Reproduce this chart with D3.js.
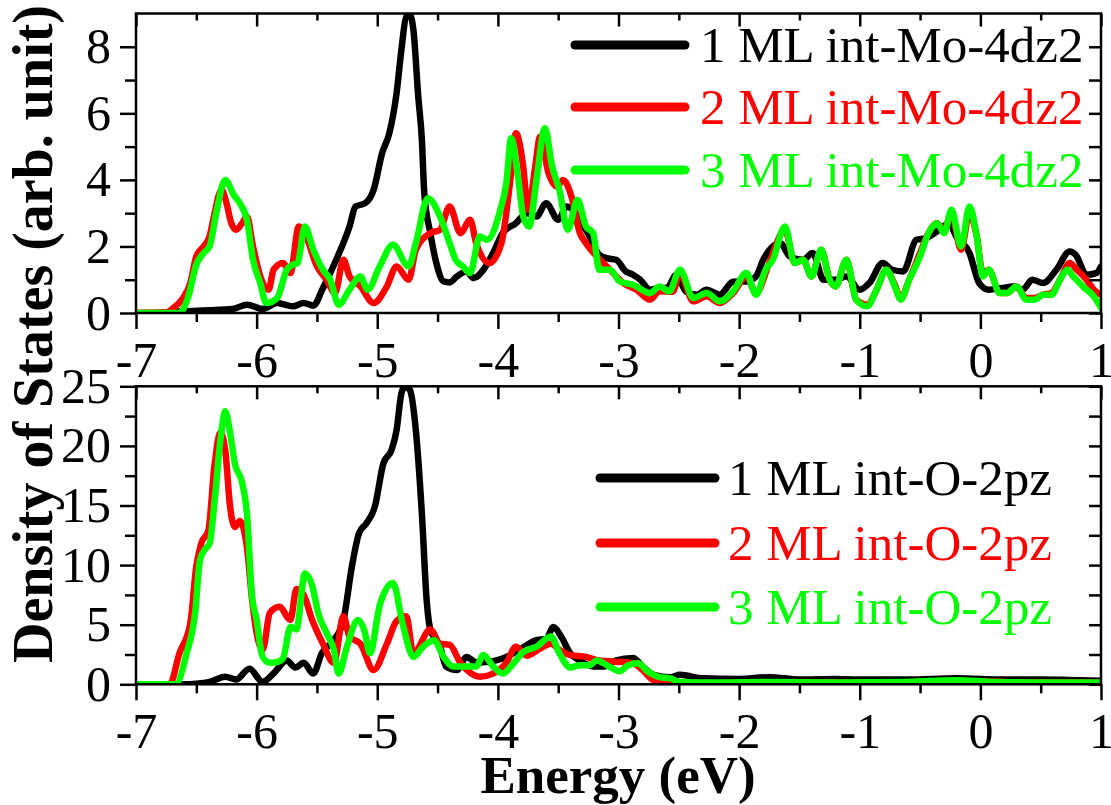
<!DOCTYPE html>
<html>
<head>
<meta charset="utf-8">
<script src="https://cdn.jsdelivr.net/npm/d3@7"></script>
<style>
  html, body { margin: 0; padding: 0; background: #ffffff; }
  svg { display: block; }
</style>
</head>
<body>
<svg id="chart" width="1111" height="805"></svg>
<script>
// ---- data -------------------------------------------------------------
const energyTicks = [-7, -6, -5, -4, -3, -2, -1, 0, 1];
const energyMinorTicks = [-6.5, -5.5, -4.5, -3.5, -2.5, -1.5, -0.5, 0.5];
const moTicks = [0, 2, 4, 6, 8];
const moMinorTicks = [1, 3, 5, 7];
const oTicks = [0, 5, 10, 15, 20, 25];
const oMinorTicks = [2.5, 7.5, 12.5, 17.5, 22.5];
const seriesColors = ["#000000", "#ff0000", "#00ff00"];
const moLabels = ["1 ML int-Mo-4dz2", "2 ML int-Mo-4dz2", "3 ML int-Mo-4dz2"];
const oLabels = ["1 ML int-O-2pz", "2 ML int-O-2pz", "3 ML int-O-2pz"];

// [energy (eV), DOS] — Mo 4dz2 of the interface layer
const mo1ML = [[-7.0,0],[-6.8,0],[-6.61,0.05],[-6.4,0.08],[-6.2,0.12],[-6.08,0.25],[-5.95,0.12],[-5.83,0.3],[-5.70,0.2],[-5.61,0.3],[-5.53,0.22],[-5.45,0.75],[-5.34,1.6],[-5.23,2.6],[-5.18,3.2],[-5.10,3.3],[-5.03,3.7],[-4.96,4.8],[-4.90,5.4],[-4.84,6.6],[-4.80,7.9],[-4.76,8.9],[-4.73,8.95],[-4.70,8.5],[-4.66,6.5],[-4.63,5.2],[-4.61,3.6],[-4.56,2.4],[-4.51,1.5],[-4.45,0.95],[-4.40,0.92],[-4.34,1.1],[-4.26,1.25],[-4.20,1.05],[-4.12,1.3],[-4.04,1.8],[-3.96,2.4],[-3.85,2.7],[-3.76,3.0],[-3.68,2.9],[-3.60,3.3],[-3.50,2.8],[-3.43,3.2],[-3.38,3.1],[-3.32,2.8],[-3.24,2.3],[-3.16,1.75],[-3.10,1.65],[-3.02,1.6],[-2.94,1.25],[-2.88,1.15],[-2.82,1.0],[-2.74,0.7],[-2.66,0.75],[-2.60,0.75],[-2.52,1.15],[-2.44,0.64],[-2.35,0.55],[-2.27,0.7],[-2.16,0.55],[-2.05,0.94],[-1.94,0.95],[-1.86,1.1],[-1.80,1.6],[-1.72,2.0],[-1.66,2.1],[-1.58,1.7],[-1.47,1.6],[-1.39,1.8],[-1.30,1.0],[-1.20,1.0],[-1.11,1.1],[-1.0,0.7],[-0.92,0.9],[-0.81,1.5],[-0.73,1.3],[-0.64,1.25],[-0.53,2.2],[-0.45,2.25],[-0.34,2.5],[-0.26,2.7],[-0.20,2.3],[-0.09,1.8],[-0.01,0.9],[0.07,0.7],[0.18,0.75],[0.27,0.8],[0.35,0.7],[0.43,1.0],[0.52,0.9],[0.63,1.3],[0.74,1.85],[0.79,1.75],[0.88,1.15],[0.96,1.2],[1.0,1.4]];
const mo2ML = [[-7,0],[-6.75,0.02],[-6.69,0.15],[-6.62,0.4],[-6.55,0.9],[-6.50,1.7],[-6.44,2.0],[-6.39,2.3],[-6.36,2.8],[-6.29,3.7],[-6.25,3.3],[-6.21,2.7],[-6.17,2.5],[-6.12,2.7],[-6.08,2.9],[-6.03,2.0],[-5.96,1.0],[-5.90,0.7],[-5.86,1.3],[-5.78,1.5],[-5.72,1.2],[-5.65,2.6],[-5.59,2.3],[-5.50,1.4],[-5.42,1.0],[-5.35,0.6],[-5.28,1.6],[-5.23,1.1],[-5.14,0.8],[-5.03,0.3],[-4.92,0.8],[-4.84,1.4],[-4.74,1.0],[-4.68,1.9],[-4.56,2.4],[-4.48,2.5],[-4.40,3.2],[-4.31,2.4],[-4.23,2.8],[-4.18,2.1],[-4.07,1.5],[-3.97,2.1],[-3.90,3.9],[-3.85,5.4],[-3.79,4.4],[-3.75,3.1],[-3.69,4.4],[-3.65,5.3],[-3.58,4.2],[-3.51,3.8],[-3.46,4.0],[-3.39,3.5],[-3.32,2.4],[-3.27,2.1],[-3.18,1.7],[-3.07,1.3],[-2.96,0.9],[-2.85,0.7],[-2.74,0.4],[-2.66,0.65],[-2.55,0.64],[-2.49,1.2],[-2.38,0.35],[-2.27,0.5],[-2.16,0.3],[-2.05,0.6],[-1.94,1.1],[-1.86,0.6],[-1.75,1.5],[-1.62,2.5],[-1.54,1.5],[-1.47,1.6],[-1.40,1.1],[-1.32,1.9],[-1.25,1.0],[-1.20,0.8],[-1.11,1.6],[-1.03,0.4],[-0.94,0.25],[-0.86,0.7],[-0.78,1.3],[-0.71,0.85],[-0.66,0.45],[-0.59,1.0],[-0.50,1.8],[-0.43,2.4],[-0.36,2.7],[-0.30,2.5],[-0.24,3.0],[-0.16,1.9],[-0.09,3.0],[-0.03,2.3],[0.02,1.2],[0.07,1.3],[0.16,0.6],[0.22,0.6],[0.30,0.8],[0.38,0.45],[0.45,0.45],[0.52,0.55],[0.59,0.6],[0.66,1.0],[0.74,1.5],[0.80,1.3],[0.88,1.0],[0.94,0.7],[1.0,0.55]];
const mo3ML = [[-7,0],[-6.64,0],[-6.57,0.45],[-6.50,1.45],[-6.44,1.8],[-6.39,2.0],[-6.33,3.1],[-6.26,4.0],[-6.19,3.55],[-6.14,3.3],[-6.08,2.8],[-6.03,1.6],[-5.97,0.9],[-5.92,0.3],[-5.83,0.45],[-5.75,1.3],[-5.70,1.45],[-5.66,1.5],[-5.60,2.6],[-5.53,1.9],[-5.45,1.3],[-5.39,1.0],[-5.32,0.25],[-5.23,0.7],[-5.14,1.1],[-5.08,0.7],[-4.98,1.4],[-4.87,2.05],[-4.74,1.4],[-4.68,2.1],[-4.58,3.45],[-4.48,2.9],[-4.40,2.1],[-4.35,1.6],[-4.29,1.4],[-4.23,1.2],[-4.15,2.3],[-4.09,2.2],[-3.98,3.1],[-3.93,3.9],[-3.89,5.25],[-3.83,4.0],[-3.79,2.9],[-3.74,2.6],[-3.68,4.0],[-3.61,5.55],[-3.55,4.4],[-3.49,3.7],[-3.42,2.5],[-3.34,3.4],[-3.27,2.6],[-3.21,2.4],[-3.16,1.3],[-3.07,1.3],[-2.99,0.95],[-2.88,0.85],[-2.74,0.6],[-2.66,0.8],[-2.58,0.65],[-2.49,1.3],[-2.38,0.45],[-2.27,0.6],[-2.16,0.35],[-2.05,0.65],[-1.94,1.2],[-1.86,0.55],[-1.78,1.3],[-1.72,1.6],[-1.62,2.6],[-1.54,1.5],[-1.47,1.6],[-1.40,1.1],[-1.32,1.9],[-1.25,1.0],[-1.20,0.8],[-1.11,1.6],[-1.03,0.4],[-0.94,0.2],[-0.86,0.7],[-0.78,1.3],[-0.71,0.8],[-0.66,0.4],[-0.59,1.0],[-0.50,1.7],[-0.43,2.4],[-0.36,2.7],[-0.30,2.4],[-0.24,3.1],[-0.16,2.0],[-0.09,3.2],[-0.03,2.3],[0.02,1.1],[0.07,1.3],[0.16,0.6],[0.22,0.6],[0.30,0.8],[0.38,0.4],[0.45,0.4],[0.52,0.55],[0.59,0.55],[0.66,1.0],[0.72,1.3],[0.77,1.1],[0.85,0.8],[0.94,0.5],[1.0,0.15]];

// [energy (eV), DOS] — O 2pz of the interface layer
const o1ML = [[-7,0],[-6.6,0],[-6.50,0.05],[-6.39,0.2],[-6.26,0.64],[-6.17,0.4],[-6.06,1.3],[-5.95,0.2],[-5.86,0.9],[-5.75,2.0],[-5.68,1.4],[-5.61,1.8],[-5.53,0.9],[-5.46,2.6],[-5.36,3.7],[-5.28,5.4],[-5.21,9.9],[-5.15,12.7],[-5.09,13.5],[-5.02,14.9],[-4.95,18.5],[-4.88,19.7],[-4.84,21.3],[-4.80,24.4],[-4.77,25],[-4.73,24.7],[-4.68,21.3],[-4.63,14.3],[-4.59,7.0],[-4.56,4.6],[-4.48,3.2],[-4.43,1.5],[-4.34,1.2],[-4.26,2.3],[-4.18,1.85],[-4.07,1.9],[-3.93,2.3],[-3.82,2.9],[-3.68,3.7],[-3.60,3.8],[-3.54,4.8],[-3.47,3.9],[-3.40,2.6],[-3.32,2.0],[-3.21,1.5],[-3.12,1.5],[-3.02,2.0],[-2.88,2.2],[-2.80,1.5],[-2.71,0.8],[-2.57,0.6],[-2.49,0.8],[-2.3,0.5],[-2.0,0.45],[-1.75,0.6],[-1.5,0.4],[-1.2,0.45],[-1.0,0.4],[-0.6,0.4],[-0.2,0.5],[0.2,0.4],[0.5,0.4],[0.8,0.35],[1.0,0.3]];
const o2ML = [[-7,0],[-6.72,0],[-6.64,2.6],[-6.55,5.1],[-6.50,9.9],[-6.46,11.8],[-6.40,12.9],[-6.35,18.3],[-6.30,21.1],[-6.26,19.6],[-6.22,14.9],[-6.18,13.2],[-6.14,13.7],[-6.08,11.5],[-6.04,7.3],[-6.00,4.3],[-5.95,2.9],[-5.89,6.0],[-5.81,6.5],[-5.72,5.4],[-5.67,8.0],[-5.61,7.5],[-5.54,5.4],[-5.45,3.4],[-5.36,1.8],[-5.28,5.7],[-5.23,4.0],[-5.14,3.4],[-5.03,1.2],[-4.92,3.4],[-4.84,5.3],[-4.76,5.7],[-4.70,2.6],[-4.56,4.6],[-4.48,3.4],[-4.40,3.3],[-4.31,1.8],[-4.15,0.64],[-4.04,0.9],[-3.93,1.8],[-3.85,3.15],[-3.76,2.4],[-3.65,3.0],[-3.56,3.4],[-3.49,2.9],[-3.40,2.45],[-3.27,2.3],[-3.16,2.0],[-3.02,1.9],[-2.88,1.76],[-2.80,1.2],[-2.71,0.36],[-2.57,0.2],[-2.3,0.1],[-2.0,0.15],[-1.5,0.2],[-1.0,0.15],[-0.5,0.2],[-0.2,0.3],[0.2,0.2],[0.6,0.15],[1.0,0.15]];
const o3ML = [[-7,0],[-6.67,0],[-6.58,2.6],[-6.51,6.0],[-6.47,10.4],[-6.43,11.3],[-6.39,11.8],[-6.35,15.2],[-6.30,20.5],[-6.26,22.9],[-6.22,21.1],[-6.18,18.5],[-6.12,16.9],[-6.08,14.3],[-6.04,7.6],[-6.00,5.4],[-5.95,2.3],[-5.89,1.8],[-5.82,1.9],[-5.78,2.2],[-5.72,4.8],[-5.67,4.6],[-5.60,9.3],[-5.54,8.3],[-5.49,6.0],[-5.42,4.3],[-5.36,2.9],[-5.32,0.9],[-5.25,3.2],[-5.16,5.4],[-5.11,4.6],[-5.06,2.6],[-4.98,6.6],[-4.87,8.5],[-4.79,5.1],[-4.70,2.3],[-4.62,3.15],[-4.53,3.7],[-4.45,2.3],[-4.37,1.5],[-4.27,1.5],[-4.18,1.5],[-4.12,2.45],[-4.04,1.5],[-3.96,0.9],[-3.87,1.76],[-3.79,2.7],[-3.68,3.15],[-3.56,4.0],[-3.49,2.6],[-3.40,1.4],[-3.32,1.6],[-3.24,1.6],[-3.18,2.0],[-3.08,1.5],[-2.99,1.1],[-2.92,1.6],[-2.84,1.76],[-2.76,1.1],[-2.66,0.6],[-2.57,0.5],[-2.49,0.2],[-2.2,0.15],[-1.8,0.2],[-1.2,0.15],[-0.6,0.2],[-0.2,0.35],[0.1,0.2],[0.6,0.15],[1.0,0.15]];

// ---- layout -----------------------------------------------------------
const svg = d3.select("#chart");
const left = 136, right = 1101;
const serif = "'Liberation Serif', 'Times New Roman', serif";
// plain hyphen-minus for negative tick labels
const plainNumber = d => String(d);

const x = d3.scaleLinear().domain([-7, 1]).range([left, right]);

const panels = [
  { top: 13.5, bottom: 313, yMax: 9, ticks: moTicks, minor: moMinorTicks,
    series: [mo1ML, mo2ML, mo3ML], labels: moLabels,
    legend: { x1: 575, x2: 685, textX: 700, ys: [45, 107, 170] } },
  { top: 386.3, bottom: 684.3, yMax: 25, ticks: oTicks, minor: oMinorTicks,
    series: [o1ML, o2ML, o3ML], labels: oLabels,
    legend: { x1: 600, x2: 715, textX: 728, ys: [478, 543, 607] } }
];

const defs = svg.append("defs");

panels.forEach((p, pi) => {
  const y = d3.scaleLinear().domain([0, p.yMax]).range([p.bottom, p.top]);
  const g = svg.append("g");

  const styleAxis = sel => {
    sel.select(".domain").remove();
    sel.selectAll("line").attr("stroke", "#000").attr("stroke-width", 2.5);
    sel.selectAll("text").attr("fill", "#000")
      .style("font-family", serif).style("font-size", "50px");
  };

  // clip the curves to the plotting frame
  const clipId = "clip" + pi;
  defs.append("clipPath").attr("id", clipId)
    .append("rect")
    .attr("x", left).attr("y", p.top)
    .attr("width", right - left).attr("height", p.bottom - p.top);

  // curves
  const line = d3.line()
    .x(d => x(d[0]))
    .y(d => y(d[1]))
    .curve(d3.curveMonotoneX);

  const curves = g.append("g").attr("clip-path", `url(#${clipId})`);
  p.series.forEach((s, si) => {
    curves.append("path")
      .datum(s)
      .attr("d", line)
      .attr("fill", "none")
      .attr("stroke", seriesColors[si])
      .attr("stroke-width", 6.5)
      .attr("stroke-linejoin", "round")
      .attr("stroke-linecap", "round");
  });

  // bottom axis (outward ticks with labels)
  g.append("g").attr("transform", `translate(0,${p.bottom})`)
    .call(d3.axisBottom(x).tickValues(energyTicks).tickSize(16).tickSizeOuter(0)
      .tickPadding(12).tickFormat(plainNumber))
    .call(styleAxis);
  g.append("g").attr("transform", `translate(0,${p.bottom})`)
    .call(d3.axisBottom(x).tickValues(energyMinorTicks).tickSize(9).tickSizeOuter(0).tickFormat(""))
    .call(styleAxis);

  // top axis (inward ticks, no labels)
  g.append("g").attr("transform", `translate(0,${p.top})`)
    .call(d3.axisTop(x).tickValues(energyTicks).tickSize(-13).tickSizeOuter(0).tickFormat(""))
    .call(styleAxis);
  g.append("g").attr("transform", `translate(0,${p.top})`)
    .call(d3.axisTop(x).tickValues(energyMinorTicks).tickSize(-7).tickSizeOuter(0).tickFormat(""))
    .call(styleAxis);

  // left axis (outward ticks with labels)
  g.append("g").attr("transform", `translate(${left},0)`)
    .call(d3.axisLeft(y).tickValues(p.ticks).tickSize(16).tickSizeOuter(0)
      .tickPadding(9).tickFormat(plainNumber))
    .call(styleAxis);
  g.append("g").attr("transform", `translate(${left},0)`)
    .call(d3.axisLeft(y).tickValues(p.minor).tickSize(11).tickSizeOuter(0).tickFormat(""))
    .call(styleAxis);

  // right axis (inward ticks, no labels)
  g.append("g").attr("transform", `translate(${right},0)`)
    .call(d3.axisRight(y).tickValues(p.ticks.concat(p.minor)).tickSize(-12).tickSizeOuter(0).tickFormat(""))
    .call(styleAxis);

  // frame
  g.append("rect")
    .attr("x", left).attr("y", p.top)
    .attr("width", right - left).attr("height", p.bottom - p.top)
    .attr("fill", "none").attr("stroke", "#000").attr("stroke-width", 2.5);

  // legend
  const lg = g.append("g");
  p.labels.forEach((lab, i) => {
    const ly = p.legend.ys[i];
    lg.append("line")
      .attr("x1", p.legend.x1).attr("x2", p.legend.x2)
      .attr("y1", ly).attr("y2", ly)
      .attr("stroke", seriesColors[i]).attr("stroke-width", 9)
      .attr("stroke-linecap", "round");
    lg.append("text")
      .attr("x", p.legend.textX).attr("y", ly + 17)
      .attr("fill", seriesColors[i])
      .style("font-family", serif).style("font-size", "51px")
      .text(lab);
  });
});

// axis titles
svg.append("text")
  .attr("transform", "translate(52,334) rotate(-90)")
  .attr("text-anchor", "middle")
  .style("font-family", serif).style("font-size", "56px").style("font-weight", "bold")
  .text("Density of States (arb. unit)");

svg.append("text")
  .attr("x", 618).attr("y", 793)
  .attr("text-anchor", "middle")
  .style("font-family", serif).style("font-size", "53px").style("font-weight", "bold")
  .text("Energy (eV)");
</script>
</body>
</html>
